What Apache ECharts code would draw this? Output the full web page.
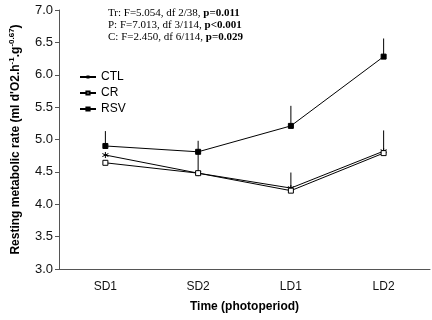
<!DOCTYPE html>
<html>
<head>
<meta charset="utf-8">
<script src="https://cdn.jsdelivr.net/npm/echarts@6/dist/echarts.min.js"></script>
<style>
  html, body { margin: 0; padding: 0; background: #fff; }
  #chart { width: 432px; height: 320px; }
</style>
</head>
<body>
<div id="chart"></div>
<script>
// photoperiod groups
const periods = ["SD1", "SD2", "LD1", "LD2"];
const yTicks = [3.0, 3.5, 4.0, 4.5, 5.0, 5.5, 6.0, 6.5, 7.0];

// mean resting metabolic rate
const ctl = [4.76, 4.48, 4.25, 4.82];
const cr = [4.64, 4.48, 4.21, 4.79];
const rsv = [4.90, 4.81, 5.21, 6.28];

// upper end of the error bars (null = hidden under other marks)
const ctlUpper = [null, 4.80, 4.49, 5.14];
const crUpper = [null, null, null, null];
const rsvUpper = [5.13, 4.98, 5.52, 6.56];

const stats = [
  ["Tr: F=5.054, df 2/38, ", "p=0.011"],
  ["P: F=7.013, df 3/114, ", "p<0.001"],
  ["C: F=2.450, df 6/114, ", "p=0.029"],
];

const asterisk = "path://M5,0L5,10M0.7,2.5L9.3,7.5M0.7,7.5L9.3,2.5";

function errBars(means, upper) {
  return {
    type: "custom",
    silent: true,
    z: 1,
    data: means.map((m, i) => [i, m, upper[i]]).filter(d => d[2] != null),
    renderItem: (params, api) => {
      const a = api.coord([api.value(0), api.value(1)]);
      const b = api.coord([api.value(0), api.value(2)]);
      return {
        type: "line",
        shape: { x1: a[0], y1: a[1], x2: b[0], y2: b[1] },
        style: { stroke: "#000", lineWidth: 1 },
      };
    },
  };
}

const lineStyle = { color: "#000", width: 1 };

const option = {
  animation: false,
  grid: { left: 53, right: 2, top: 10, bottom: 51 },
  legend: {
    orient: "vertical",
    left: 74,
    top: 66,
    itemGap: 4,
    itemWidth: 16,
    itemHeight: 4,
    textStyle: { fontFamily: "Liberation Sans, Arial", fontSize: 12, color: "#000" },
    data: ["CTL", "CR", "RSV"],
  },
  xAxis: {
    type: "category",
    data: periods,
    name: "Time (photoperiod)",
    nameLocation: "middle",
    nameGap: 32,
    nameTextStyle: { fontFamily: "Liberation Sans, Arial", fontSize: 12, fontWeight: "bold", color: "#000" },
    axisLine: { lineStyle: { color: "#555", width: 1 } },
    axisTick: { length: 4, lineStyle: { color: "#555" } },
    axisLabel: { fontFamily: "Liberation Sans, Arial", fontSize: 12, color: "#111", margin: 12 },
  },
  yAxis: {
    type: "value",
    min: yTicks[0],
    max: yTicks[yTicks.length - 1],
    interval: 0.5,
    name: "{n|Resting metabolic rate (ml d'O2.h}{s|-1}{n|.g}{s|-0.67}{n|)}",
    nameLocation: "middle",
    nameRotate: 90,
    nameGap: 36,
    nameTextStyle: {
      rich: {
        n: { fontFamily: "Liberation Sans, Arial", fontSize: 12, fontWeight: "bold", color: "#000" },
        s: { fontFamily: "Liberation Sans, Arial", fontSize: 8, fontWeight: "bold", color: "#000", padding: [0, 0, 7, 0] },
      },
    },
    splitLine: { show: false },
    axisLine: { show: true, lineStyle: { color: "#555", width: 1 } },
    axisTick: { show: true, length: 4, lineStyle: { color: "#555" } },
    axisLabel: {
      fontFamily: "Liberation Sans, Arial",
      fontSize: 13,
      color: "#111",
      margin: 6,
      formatter: v => v.toFixed(1),
    },
  },
  graphic: [
    {
      type: "text",
      left: 108,
      top: 7,
      style: {
        text: stats.map(s => s[0] + "{b|" + s[1] + "}").join("\n"),
        fontFamily: "Liberation Serif, Times New Roman",
        fontSize: 11,
        lineHeight: 12,
        fill: "#000",
        rich: {
          b: { fontFamily: "Liberation Serif, Times New Roman", fontSize: 11, lineHeight: 12, fontWeight: "bold", fill: "#000" },
        },
      },
    },
  ],
  series: [
    errBars(ctl, ctlUpper),
    errBars(cr, crUpper),
    errBars(rsv, rsvUpper),
    {
      name: "CTL", type: "line", data: ctl, z: 3,
      symbol: asterisk, symbolSize: 6,
      lineStyle: lineStyle,
      itemStyle: { color: "#000", borderColor: "#000", borderWidth: 1 },
    },
    {
      name: "CR", type: "line", data: cr, z: 4,
      symbol: "rect", symbolSize: 5,
      lineStyle: lineStyle,
      itemStyle: { color: "#fff", borderColor: "#000", borderWidth: 1 },
    },
    {
      name: "RSV", type: "line", data: rsv, z: 5,
      symbol: "rect", symbolSize: 5,
      lineStyle: lineStyle,
      itemStyle: { color: "#000", borderColor: "#000", borderWidth: 1 },
    },
  ],
};

const myChart = echarts.init(document.getElementById("chart"));
myChart.setOption(option);
</script>
</body>
</html>
